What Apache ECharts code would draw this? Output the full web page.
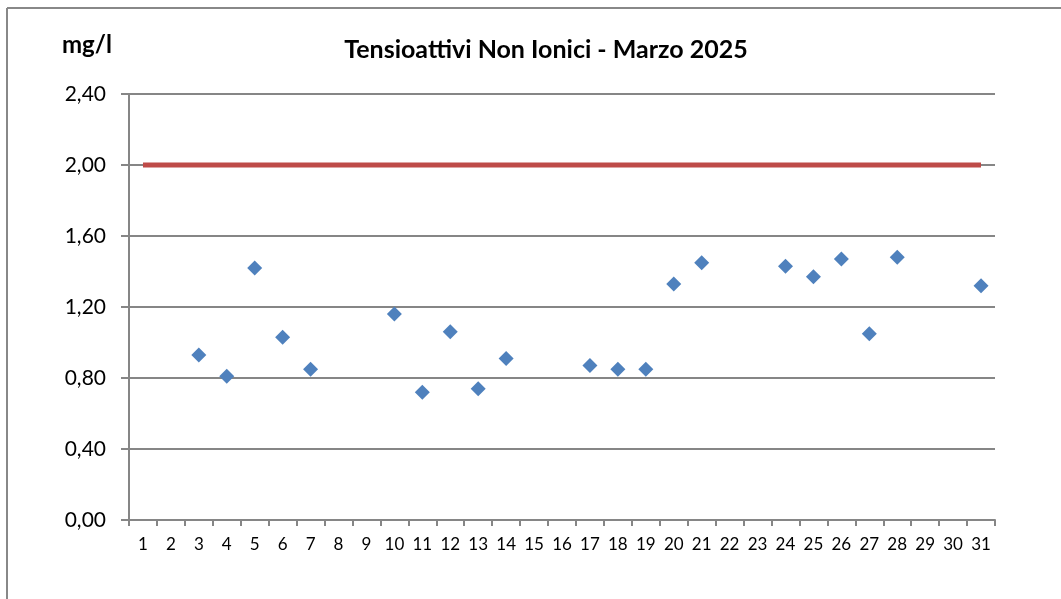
<!DOCTYPE html>
<html>
<head>
<meta charset="utf-8">
<script src="https://cdn.jsdelivr.net/npm/echarts@6/dist/echarts.min.js"></script>
<style>
  html, body { margin: 0; padding: 0; background: #fff; }
  #main { width: 1061px; height: 599px; }
</style>
</head>
<body>
<div id="main"></div>
<script>
// giorni di marzo
const days = Array.from({ length: 31 }, (_, i) => String(i + 1));
// valori misurati (mg/l), null = nessuna misura
const values = [
  null, null, 0.93, 0.81, 1.42, 1.03, 0.85, null, null, 1.16,
  0.72, 1.06, 0.74, 0.91, null, null, 0.87, 0.85, 0.85, 1.33,
  1.45, null, null, 1.43, 1.37, 1.47, 1.05, 1.48, null, null, 1.32
];
// limite di legge
const limitValue = 2.0;
const limit = days.map(() => limitValue);

const font = "Lato, 'Open Sans', sans-serif";
const chart = echarts.init(document.getElementById("main"));
chart.setOption({
  backgroundColor: "#fff",
  animation: false,
  title: {
    text: "Tensioattivi Non Ionici - Marzo 2025",
    left: 541,
    top: 32,
    textAlign: "center",
    textStyle: { fontFamily: font, fontSize: 25, fontWeight: "bold", color: "#000" }
  },
  graphic: [
    { type: "line", shape: { x1: 7, y1: 8, x2: 7, y2: 599 }, style: { stroke: "#888", lineWidth: 2 } },
    { type: "line", shape: { x1: 7, y1: 8, x2: 1061, y2: 8 }, style: { stroke: "#888", lineWidth: 2 } },
    {
      type: "text", left: 62, top: 33,
      style: { text: "mg/l", font: "bold 24px Lato, sans-serif", fill: "#000" }
    }
  ],
  grid: { left: 129, right: 66, top: 94, bottom: 79 },
  xAxis: {
    type: "category",
    data: days,
    boundaryGap: true,
    axisLine: { lineStyle: { color: "#868686", width: 2 } },
    axisTick: { show: true, length: 6, lineStyle: { color: "#868686", width: 2 } },
    axisLabel: { color: "#000", fontFamily: font, fontSize: 17, margin: 16 },
    splitLine: { show: false }
  },
  yAxis: {
    type: "value",
    min: 0,
    max: 2.4,
    interval: 0.4,
    axisLine: { show: true, lineStyle: { color: "#868686", width: 2 } },
    axisTick: { show: true, length: 8, lineStyle: { color: "#868686", width: 2 } },
    axisLabel: {
      color: "#000", fontFamily: font, fontSize: 21, margin: 23,
      formatter: v => v.toFixed(2).replace(".", ",")
    },
    splitLine: { show: true, lineStyle: { color: "#868686", width: 2 } }
  },
  series: [
    {
      name: "Limite",
      type: "line",
      data: limit,
      symbol: "none",
      lineStyle: { color: "#BE4B48", width: 5 },
      z: 3
    },
    {
      name: "Tensioattivi",
      type: "scatter",
      data: values,
      symbol: "diamond",
      symbolSize: 15,
      itemStyle: { color: "#4F81BD", opacity: 1 },
      z: 4
    }
  ]
});
</script>
</body>
</html>
